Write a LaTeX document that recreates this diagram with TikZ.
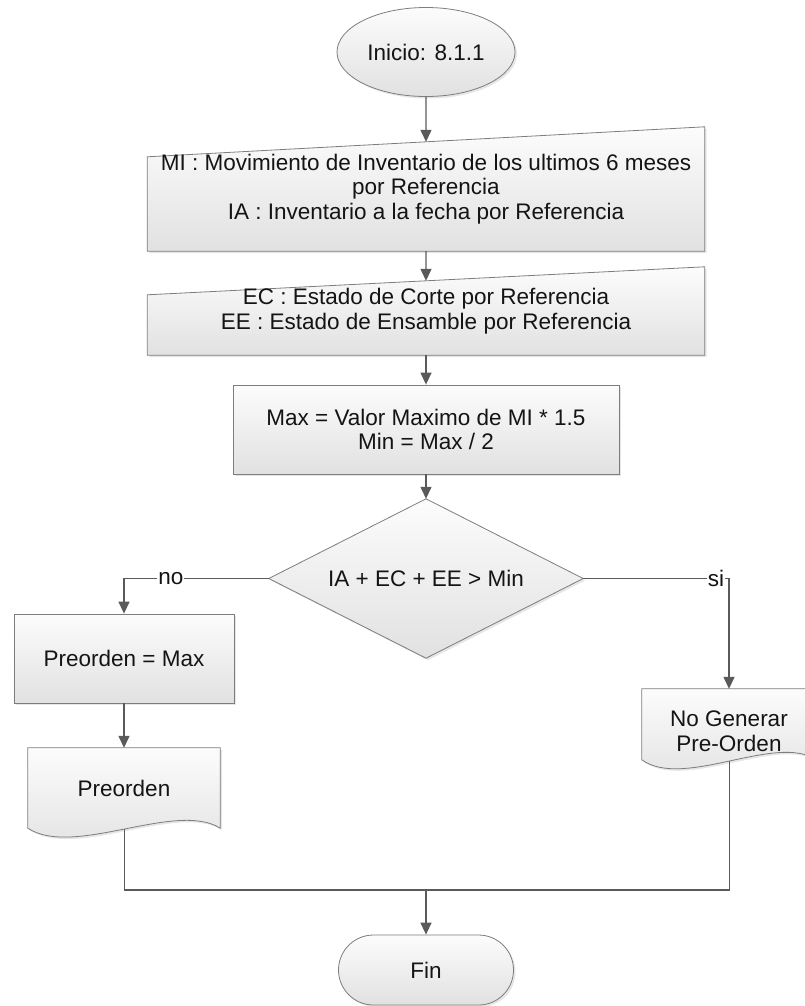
\documentclass[tikz,border=0pt]{standalone}
\usepackage{fontspec}
\setmainfont{Liberation Sans}
\usetikzlibrary{arrows.meta,shapes.geometric,shapes.misc,calc,shadows}
\definecolor{edgecol}{RGB}{125,125,125}
\definecolor{wirecol}{RGB}{90,90,90}
\definecolor{filltop}{RGB}{252,252,252}
\definecolor{fillbot}{RGB}{225,225,225}
\definecolor{ink}{RGB}{20,20,20}
\pgfdeclarelayer{bg}
\pgfsetlayers{bg,main}

\begin{document}
\begin{tikzpicture}[x=1bp,y=-1bp,
  font=\fontsize{22.5bp}{24.5bp}\selectfont,
  txt/.style={inner sep=0pt, align=center, text=ink},
  body/.style={draw=edgecol, line width=0.8bp, top color=filltop, bottom color=fillbot,
    drop shadow={shadow xshift=2bp, shadow yshift=-2bp, opacity=0.2}},
  wire/.style={draw=wirecol, line width=1.4bp},
  arrow/.style={wire, -{Triangle[length=12bp,width=11bp]}},
  tag/.style={fill=white, inner sep=1bp, text=ink}
]
\useasboundingbox (0,0) rectangle (805,1006);
\clip (0,0) rectangle (805,1006);

% terminals
\node[ellipse, body, txt, minimum width=178bp, minimum height=89bp] (ini) at (426,52) {Inicio: 8.1.1};
\node[rounded rectangle, body, txt, minimum width=175bp, minimum height=70bp] (fin) at (426,970) {Fin};

% manual inputs (text frames; outlines drawn on the background layer)
\node[txt, minimum width=557bp, minimum height=124bp] (mi) at (426,189)
  {MI : Movimiento de Inventario de los ultimos 6 meses\\por Referencia\\IA : Inventario a la fecha por Referencia};
\node[txt, minimum width=557bp, minimum height=88bp] (ec) at (426,311)
  {EC : Estado de Corte por Referencia\\EE : Estado de Ensamble por Referencia};

% processes
\node[rectangle, body, txt, minimum width=386bp, minimum height=89bp] (mx) at (426,429.5)
  {Max = Valor Maximo de MI * 1.5\\Min = Max / 2};
\node[rectangle, body, txt, minimum width=220bp, minimum height=89bp] (pm) at (124,658.5)
  {Preorden = Max};

% decision
\node[txt, minimum width=314bp, minimum height=159bp] (dec) at (426,578.5) {IA + EC + EE > Min};

% documents
\node[txt, minimum width=192bp, minimum height=80bp] (pd) at (124,788) {Preorden};
\node[txt, minimum width=174bp, minimum height=84bp] (ng) at (729,731) {No Generar\\Pre-Orden};

\begin{pgfonlayer}{bg}
  \coordinate (mitl) at ($(mi.north west)+(0,30)$);
  \path[body] (mitl) -- (mi.north east) -- (mi.south east) -- (mi.south west) -- cycle;
  \coordinate (ectl) at ($(ec.north west)+(0,28)$);
  \path[body] (ectl) -- (ec.north east) -- (ec.south east) -- (ec.south west) -- cycle;
  \path[body] (dec.north) -- (dec.east) -- (dec.south) -- (dec.west) -- cycle;
  \path[body] (pd.north west) -- (pd.north east) -- (pd.south east)
    .. controls ($(pd.south east)+(-44,-28)$) and ($(pd.south west)+(46,30)$) .. (pd.south west)
    coordinate[pos=0.5] (pdw) -- cycle;
  \path[body] (ng.north west) -- (ng.north east) -- ($(ng.north east)+(0,71)$)
    .. controls ($(ng.north east)+(-40,44)$) and ($(ng.north west)+(42,101)$) .. ($(ng.north west)+(0,71)$)
    coordinate[pos=0.5] (ngw) -- cycle;
\end{pgfonlayer}

\coordinate (mitop) at ($(mitl)!0.5!(mi.north east)$);
\coordinate (ectop) at ($(ectl)!0.5!(ec.north east)$);
\coordinate (join) at (426,890);

% connectors
\draw[arrow] (ini.south) -- (mitop);
\draw[arrow] (mi.south) -- (ectop);
\draw[arrow] (ec.south) -- (mx.north);
\draw[arrow] (mx.south) -- (dec.north);
\draw[arrow] (dec.west) -| node[tag, pos=0.338] {no} (pm.north);
\draw[arrow] (dec.east) -| node[tag, pos=0.455] {si} (ng.north);
\draw[arrow] (pm.south) -- (pd.north);
\draw[wire] (pdw) |- (join) -| (ngw);
\draw[arrow] (join) -- (fin.north);
\end{tikzpicture}
\end{document}
